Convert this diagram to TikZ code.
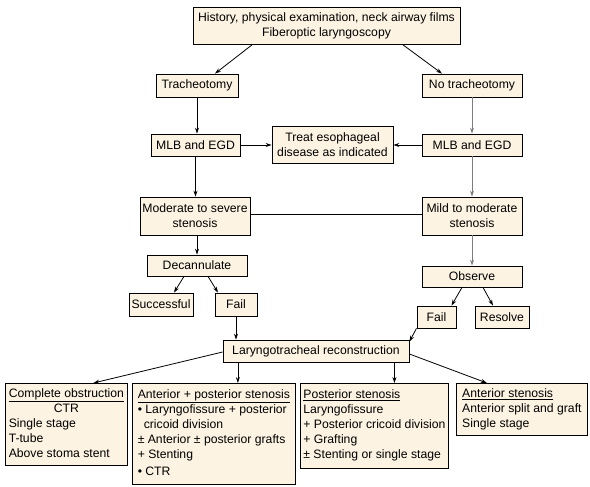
\documentclass[tikz,border=0pt]{standalone}
\usepackage{fontspec}
\setmainfont{Liberation Sans}
\usetikzlibrary{arrows.meta, positioning}
\definecolor{boxfill}{RGB}{253,243,226}
\definecolor{greyline}{RGB}{125,125,125}

\begin{document}
\begin{tikzpicture}[
    x=1pt, y=-1pt,
    every node/.style={font=\fontsize{12.2}{15}\selectfont},
    box/.style={rectangle, draw, line width=0.8pt, fill=boxfill, inner sep=2pt, align=center},
    listbox/.style={rectangle, draw, line width=0.8pt, fill=boxfill, inner sep=3pt, anchor=north west, align=left},
    arrow/.style={-{Stealth[length=6pt, width=4pt]}, line width=0.8pt},
    greyarrow/.style={arrow, greyline}
]
\useasboundingbox (0,0) rectangle (590,487);

% --- top of the chart ---
\node (history) [box, minimum width=267pt, minimum height=37pt] at (326.5,25.5)
    {History, physical examination, neck airway films\\ Fiberoptic laryngoscopy};

\node (trach) [box, minimum width=82pt, minimum height=23pt] at (197,85.5) {Tracheotomy};
\node (notrach) [box, minimum width=100pt, minimum height=23pt] at (472,85.5) {No tracheotomy};

\node (mlbleft) [box, minimum width=89pt, minimum height=22pt] at (195.5,145) {MLB and EGD};
\node (treat) [box, minimum width=121pt, minimum height=37pt] at (332.5,144.5)
    {Treat esophageal\\ disease as indicated};
\node (mlbright) [box, minimum width=100pt, minimum height=22pt] at (472,145) {MLB and EGD};

\node (modsevere) [box, minimum width=110pt, minimum height=38pt] at (195,216)
    {Moderate to severe\\ stenosis};
\node (mildmod) [box, minimum width=100pt, minimum height=38pt] at (472,216)
    {Mild to moderate\\ stenosis};

% --- left branch ---
\node (decannulate) [box, minimum width=100pt, minimum height=21pt] at (197,265.5) {Decannulate};
\node (successful) [box, minimum width=64pt, minimum height=23pt] at (161,304.5) {Successful};
\node (failleft) [box, minimum width=42pt, minimum height=23pt] at (236,304.5) {Fail};

% --- right branch ---
\node (observe) [box, minimum width=100pt, minimum height=21pt] at (472,276.5) {Observe};
\node (failright) [box, minimum width=39pt, minimum height=22pt] at (436.5,317) {Fail};
\node (resolve) [box, minimum width=54pt, minimum height=22pt] at (502,317) {Resolve};

\node (ltr) [box, minimum width=186pt, minimum height=22pt] at (316,351) {Laryngotracheal reconstruction};

% --- procedures ---
\node (complete) [listbox, minimum width=122pt, minimum height=82pt] at (5,383) {%
    \begin{tabular}{@{}l@{}}
    \underline{Complete obstruction}\\
    \multicolumn{1}{@{}c@{}}{CTR}\\
    Single stage\\
    T-tube\\
    Above stoma stent
    \end{tabular}};

\node (antpost) [listbox, minimum width=163pt, minimum height=101pt] at (132,383) {%
    \begin{tabular}{@{}l@{}}
    \underline{Anterior + posterior stenosis}\\
    • Laryngofissure + posterior\\
    \hspace*{6pt}cricoid division\\
    ± Anterior ± posterior grafts\\
    + Stenting\\[2pt]
    • CTR
    \end{tabular}};

\node (posterior) [listbox, minimum width=148pt, minimum height=85pt] at (300,383) {%
    \begin{tabular}{@{}l@{}}
    \underline{Posterior stenosis}\\
    Laryngofissure\\
    + Posterior cricoid division\\
    + Grafting\\
    ± Stenting or single stage
    \end{tabular}};

\node (anterior) [listbox, minimum width=131pt, minimum height=52pt] at (456,383) {%
    \begin{tabular}{@{}l@{}}
    \underline{Anterior stenosis}\\
    Anterior split and graft\\
    Single stage
    \end{tabular}};

% --- arrows ---
\draw [arrow] ([xshift=60pt]history.south west) -- ([xshift=18pt]trach.north);
\draw [arrow] ([xshift=-58pt]history.south east) -- ([xshift=-30pt]notrach.north);
\draw [arrow] (trach.south) -- (trach.south |- mlbleft.north);
\draw [greyarrow] (notrach) -- (mlbright);
\draw [arrow] (mlbleft.east) -- (treat.west |- mlbleft);
\draw [arrow] (mlbright.west) -- (treat.east |- mlbright);
\draw [arrow] (mlbleft.south) -- (mlbleft.south |- modsevere.north);
\draw [greyarrow] (mlbright) -- (mildmod);
\draw [line width=0.8pt] ([yshift=2pt]modsevere.east) -- ([yshift=2pt]mildmod.west);
\draw [arrow] (modsevere.south -| decannulate) -- (decannulate.north);
\draw [greyarrow] (mildmod) -- (observe);

\draw [arrow] ([xshift=-13pt]decannulate.south) -- ([xshift=13pt]successful.north);
\draw [arrow] ([xshift=11pt]decannulate.south) -- ([xshift=-18pt]failleft.north);
\draw [arrow] ([xshift=-10pt]observe.south) -- ([xshift=15pt]failright.north);
\draw [arrow] ([xshift=11pt]observe.south) -- ([xshift=-9pt]resolve.north);

\draw [arrow] (failleft.south) -- (failleft.south |- ltr.north);
\draw [arrow] ([xshift=-20pt]failright.south) -- ([yshift=-2pt]ltr.north east);

\draw [arrow] ([yshift=-1pt]ltr.west) -- ([xshift=27pt]complete.north);
\draw [arrow] ([xshift=24pt]antpost.north |- ltr.south) -- ([xshift=24pt]antpost.north);
\draw [arrow] ([xshift=20pt]posterior.north |- ltr.south) -- ([xshift=20pt]posterior.north);
\draw [arrow] ([yshift=-3pt]ltr.east) -- ([xshift=-35pt]anterior.north);

\end{tikzpicture}
\end{document}
